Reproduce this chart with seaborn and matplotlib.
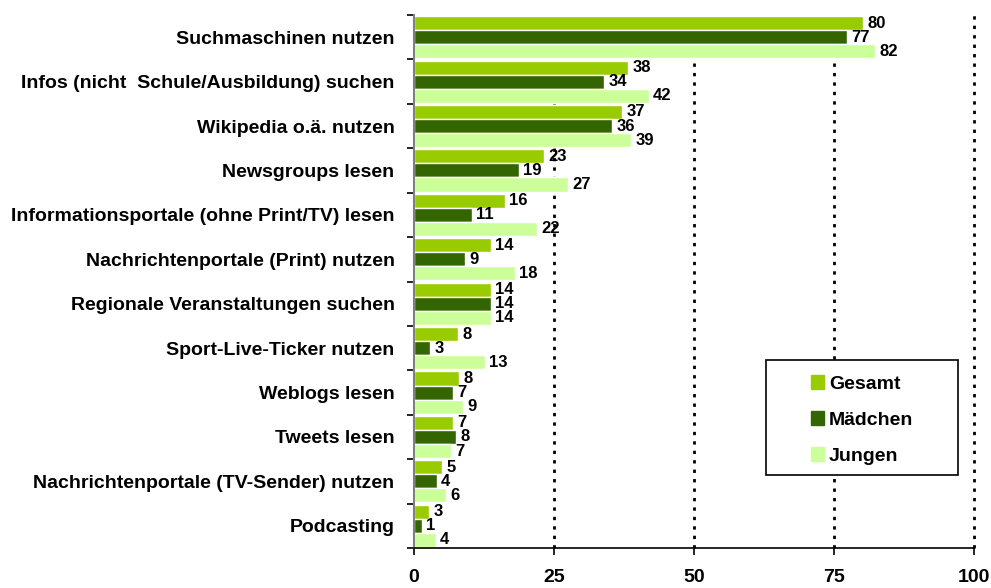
import numpy as np
import pandas as pd
import seaborn as sns
import matplotlib.pyplot as plt
from matplotlib.patches import Rectangle

categories = [
    "Suchmaschinen nutzen",
    "Infos (nicht  Schule/Ausbildung) suchen",
    "Wikipedia o.ä. nutzen",
    "Newsgroups lesen",
    "Informationsportale (ohne Print/TV) lesen",
    "Nachrichtenportale (Print) nutzen",
    "Regionale Veranstaltungen suchen",
    "Sport-Live-Ticker nutzen",
    "Weblogs lesen",
    "Tweets lesen",
    "Nachrichtenportale (TV-Sender) nutzen",
    "Podcasting",
]
groups = ["Gesamt", "Mädchen", "Jungen"]

# bar lengths and the printed labels
gesamt = [80.2, 38.3, 37.2, 23.3, 16.3, 13.8, 13.8, 7.9, 8.1, 7.0, 5.0, 2.7]
maedchen = [77.3, 34.0, 35.4, 18.8, 10.4, 9.1, 13.8, 2.9, 7.0, 7.5, 4.1, 1.4]
jungen = [82.4, 41.9, 38.8, 27.5, 22.0, 18.0, 13.8, 12.7, 8.8, 6.6, 5.7, 3.9]
gesamt_lbl = [80, 38, 37, 23, 16, 14, 14, 8, 8, 7, 5, 3]
maedchen_lbl = [77, 34, 36, 19, 11, 9, 14, 3, 7, 8, 4, 1]
jungen_lbl = [82, 42, 39, 27, 22, 18, 14, 13, 9, 7, 6, 4]

colors = ["#99CC00", "#336600", "#CCFF99"]

df = pd.DataFrame({
    "cat": categories * 3,
    "grp": np.repeat(groups, len(categories)),
    "val": gesamt + maedchen + jungen,
})

sns.set_style("white")
plt.rcParams["font.family"] = ["Liberation Sans", "DejaVu Sans"]
plt.rcParams["font.weight"] = "bold"
plt.rcParams["text.color"] = "black"
plt.rcParams["xtick.color"] = "black"
plt.rcParams["ytick.color"] = "black"

fs = 14

fig = plt.figure(figsize=(9.91, 5.88), dpi=100)
ax = fig.add_axes([414 / 991, 1 - 548 / 588, 560 / 991, 533 / 588])

for x in [25, 50, 75, 100]:
    ax.axvline(x, color="black", linestyle=(0, (1.2, 2.2)), linewidth=2,
               zorder=0.5, clip_on=False)

sns.barplot(data=df, y="cat", x="val", hue="grp", order=categories,
            hue_order=groups, palette=colors, width=0.95, gap=0,
            saturation=1, orient="h", ax=ax, legend=False, errorbar=None,
            zorder=2)

for cont, lbl in zip(ax.containers, [gesamt_lbl, maedchen_lbl, jungen_lbl]):
    ax.bar_label(cont, labels=[str(v) for v in lbl], padding=3,
                 fontsize=12, fontweight="bold", color="black")

ax.set_xlim(0, 100)
ax.set_ylim(len(categories) - 0.5, -0.5)
ax.set_xticks([0, 25, 50, 75, 100])
ax.set_xticklabels(["0", "25", "50", "75", "100"], fontsize=fs, fontweight="bold")
ax.set_yticks(range(len(categories)))
ax.set_yticklabels(categories, fontsize=fs, fontweight="bold")
ax.set_yticks(np.arange(-0.5, len(categories)), minor=True)
ax.tick_params(axis="y", which="major", length=0, pad=14)
ax.tick_params(axis="y", which="minor", length=5, width=1.2, color="black", left=True)
ax.tick_params(axis="x", length=5, width=1.2, color="black", bottom=True, pad=10)
ax.set_xlabel("")
ax.set_ylabel("")

sns.despine(ax=ax, top=True, right=True)
ax.spines["left"].set_color("#808080")
ax.spines["left"].set_linewidth(1.5)
ax.spines["bottom"].set_color("black")
ax.spines["bottom"].set_linewidth(1.2)

# legend with a plain black box
box = Rectangle((0.629, 0.137), 0.342, 0.216, transform=ax.transAxes,
                facecolor="white", edgecolor="black", linewidth=1.2, zorder=5)
ax.add_patch(box)
handles = [plt.Rectangle((0, 0), 1, 1, color=c) for c in colors]
leg = ax.legend(handles, groups, loc="center", bbox_to_anchor=(0.8, 0.24),
                frameon=False, prop={"weight": "bold", "size": fs},
                handlelength=0.7, handleheight=0.7, handletextpad=0.25,
                labelspacing=0.95)
leg.set_zorder(6)

fig.savefig("out.png", dpi=100)
